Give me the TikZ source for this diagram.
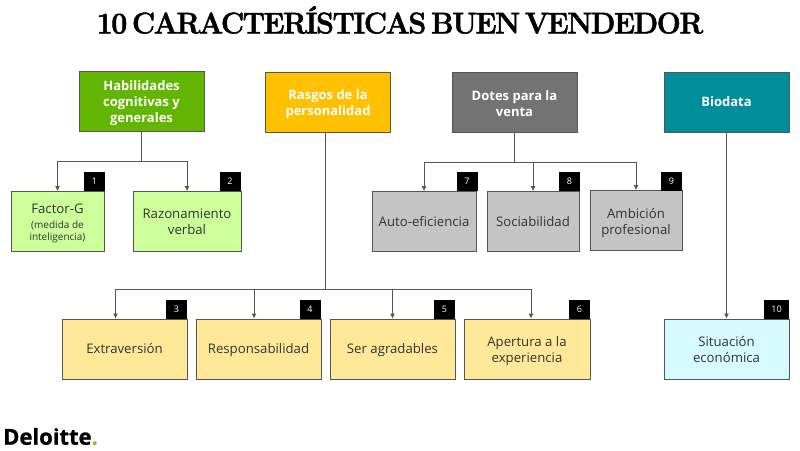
\documentclass[tikz,border=0pt]{standalone}
\usepackage{fontspec}
\setsansfont{Open Sans}
\newfontfamily\titlefont{Latin Modern Roman}[BoldFeatures={FakeBold=1.6,LetterSpace=-5,WordSpace=0.5}]
\newfontfamily\delfont{Open Sans}[BoldFeatures={FakeBold=1}]
\usetikzlibrary{arrows.meta}
\usepackage{xcolor}
\definecolor{habgreen}{HTML}{62B500}
\definecolor{rasgold}{HTML}{FFC000}
\definecolor{dotgray}{HTML}{737373}
\definecolor{biateal}{HTML}{008E9B}
\definecolor{subgreen}{HTML}{CCFF99}
\definecolor{subgold}{HTML}{FFE999}
\definecolor{subgray}{HTML}{C4C4C4}
\definecolor{subteal}{HTML}{D5FAFF}
\definecolor{linegray}{HTML}{555555}
\definecolor{delgreen}{HTML}{8CC820}
\newcommand{\notefont}{\fontsize{10}{11.5}\selectfont}
\newcommand{\lowline}[1]{\rule[-4pt]{0pt}{#1}}
\tikzset{
headbox/.style={draw=linegray, line width=0.8pt, minimum width=125pt, minimum height=60pt, inner sep=0pt, align=center, text=white, font=\sffamily\bfseries\fontsize{13}{16}\selectfont},
subbox/.style={draw=linegray, line width=0.8pt, minimum height=60pt, inner sep=0pt, align=center, text=black!80, font=\sffamily\fontsize{13.2}{16}\selectfont},
numbox/.style={fill=black, minimum width=21pt, minimum height=19pt, inner sep=0pt, text=white, font=\sffamily\fontsize{9}{9}\selectfont},
link/.style={draw=linegray, line width=0.9pt, -{Latex[length=5pt,width=5pt]}},
trunk/.style={draw=linegray, line width=0.9pt}
}

\begin{document}
\begin{tikzpicture}[x=1pt,y=-1pt]
\useasboundingbox (0,0) rectangle (800,450);

\node (title) at (400,20) [xscale=0.95, font=\titlefont\bfseries\fontsize{30}{30}\selectfont]
{10 CARACTERÍSTICAS BUEN VENDEDOR};

%main boxes
\node[headbox, fill=habgreen] (hab) at (141.5,101.5) {\rule{0pt}{13pt}Habilidades\\cognitivas y\\generales};
\node[headbox, fill=rasgold] (ras) at (328,102) {\rule{0pt}{14pt}Rasgos de la\\personalidad};
\node[headbox, fill=dotgray] (dot) at (514.5,102) {\rule{0pt}{14pt}Dotes para la\\venta};
\node[headbox, fill=biateal] (bio) at (726.5,102) {Biodata};

%green
\node[subbox, fill=subgreen, minimum width=93pt] (fac) at (57.5,221.5)
{\rule{0pt}{13pt}Factor-G\\[-1pt]\notefont (medida de\\[-4pt]\notefont inteligencia)};
\node[subbox, fill=subgreen, minimum width=108pt] (raz) at (187,221.5) {Razonamiento\\verbal};
\node[numbox] (n1) at (94.5,181.5) {1};
\node[numbox] (n2) at (230,181.5) {2};

%gray
\node[subbox, fill=subgray, minimum width=104pt] (aut) at (424,221.5) {\lowline{17.4pt}Auto-eficiencia};
\node[subbox, fill=subgray, minimum width=92pt] (soc) at (533,221.5) {\lowline{17.4pt}Sociabilidad};
\node[subbox, fill=subgray, minimum width=92pt] (amb) at (636,220.5) {\rule{0pt}{16pt}Ambición\\profesional};
\node[numbox] (n7) at (467,181.5) {7};
\node[numbox] (n8) at (569.5,181.5) {8};
\node[numbox] (n9) at (671.5,181.5) {9};

%yellow
\node[subbox, fill=subgold, minimum width=125pt] (ext) at (124.5,349) {\lowline{17.4pt}Extraversión};
\node[subbox, fill=subgold, minimum width=125pt] (res) at (258.5,349) {\lowline{17.4pt}Responsabilidad};
\node[subbox, fill=subgold, minimum width=125pt] (ser) at (392.5,349) {\lowline{17.4pt}Ser agradables};
\node[subbox, fill=subgold, minimum width=126pt] (ape) at (527,349) {\rule{0pt}{14pt}Apertura a la\\experiencia};
\node[numbox] (n3) at (176.5,309.5) {3};
\node[numbox] (n4) at (310,309.5) {4};
\node[numbox] (n5) at (444.5,309.5) {5};
\node[numbox] (n6) at (579.5,309.5) {6};

%teal
\node[subbox, fill=subteal, minimum width=125pt] (sit) at (726.5,349) {\rule{0pt}{11pt}Situación\\económica};
\node[numbox, minimum width=25pt] (n10) at (776.5,309.5) {10};

%connectors
\coordinate (habbus) at (141.5,161.5);
\coordinate (rasbus) at (325,289.5);
\coordinate (dotbus) at (514.5,162);

\draw[trunk] (hab.south) -- (habbus);
\draw[link] (habbus) -| (fac.north);
\draw[link] (habbus) -| (raz.north);

\draw[trunk] ([xshift=-3pt]ras.south) -- (rasbus);
\draw[link] (rasbus) -| ([xshift=-9pt]ext.north);
\draw[link] (rasbus) -| ([xshift=-4.5pt]res.north);
\draw[link] (rasbus) -| (ser.north);
\draw[link] (rasbus) -| ([xshift=4pt]ape.north);

\draw[trunk] (dot.south) -- (dotbus);
\draw[link] (dotbus) -| (aut.north);
\draw[link] (dotbus) -| (soc.north);
\draw[link] (dotbus) -| (amb.north);

\draw[link] (bio.south) -- (sit.north);

\node[anchor=west, inner sep=0pt, font=\delfont\bfseries\fontsize{22}{22}\selectfont] (del) at (3,436.5)
{Deloitte\textcolor{delgreen}{.}};

\end{tikzpicture}
\end{document}
